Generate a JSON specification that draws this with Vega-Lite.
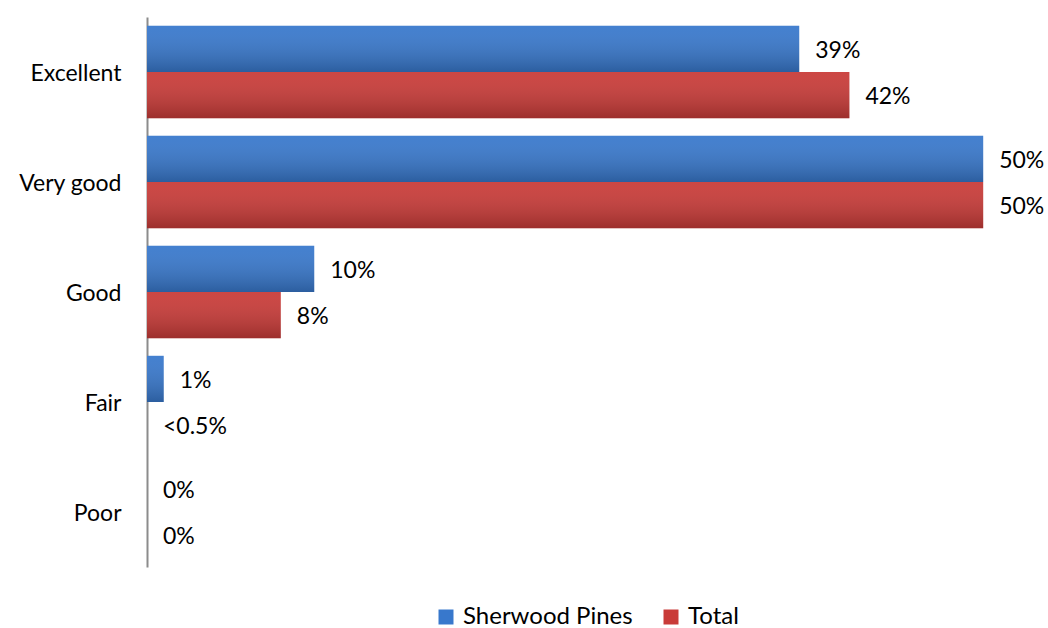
{
  "$schema": "https://vega.github.io/schema/vega-lite/v6.json",
  "width": 878,
  "height": 550,
  "autosize": {"type": "none"},
  "padding": {"left": 147, "top": 17, "right": 23, "bottom": 61},
  "background": "white",
  "config": {
    "view": {"stroke": null},
    "font": "Lato",
    "legend": {"layout": {"bottom": {"anchor": "middle"}}}
  },
  "data": {
    "values": [
      {"rating": "Excellent", "series": "Sherwood Pines", "value": 39, "label": "39%"},
      {"rating": "Excellent", "series": "Total", "value": 42, "label": "42%"},
      {"rating": "Very good", "series": "Sherwood Pines", "value": 50, "label": "50%"},
      {"rating": "Very good", "series": "Total", "value": 50, "label": "50%"},
      {"rating": "Good", "series": "Sherwood Pines", "value": 10, "label": "10%"},
      {"rating": "Good", "series": "Total", "value": 8, "label": "8%"},
      {"rating": "Fair", "series": "Sherwood Pines", "value": 1, "label": "1%"},
      {"rating": "Fair", "series": "Total", "value": 0, "label": "<0.5%"},
      {"rating": "Poor", "series": "Sherwood Pines", "value": 0, "label": "0%"},
      {"rating": "Poor", "series": "Total", "value": 0, "label": "0%"}
    ]
  },
  "encoding": {
    "y": {
      "field": "rating",
      "type": "nominal",
      "sort": ["Excellent", "Very good", "Good", "Fair", "Poor"],
      "scale": {"paddingInner": 0.16, "paddingOuter": 0.08},
      "axis": {
        "title": null,
        "ticks": false,
        "domainColor": "#8c8c8c",
        "domainWidth": 2,
        "labelFontSize": 23,
        "labelColor": "#000000",
        "labelPadding": 26,
        "labelOffset": 2,
        "labelFont": "Lato"
      }
    },
    "yOffset": {
      "field": "series",
      "type": "nominal",
      "sort": ["Sherwood Pines", "Total"]
    },
    "x": {
      "field": "value",
      "type": "quantitative",
      "scale": {"domain": [0, 52.5]},
      "axis": null
    }
  },
  "layer": [
    {
      "mark": {"type": "bar"},
      "encoding": {
        "color": {
          "field": "series",
          "type": "nominal",
          "scale": {"domain": ["Sherwood Pines", "Total"], "range": ["#3878cc", "#c93b38"]},
          "legend": {
            "title": null,
            "orient": "bottom",
            "direction": "horizontal",
            "offset": 38,
            "symbolType": "square",
            "symbolSize": 225,
            "symbolStrokeWidth": 0,
            "labelFontSize": 24,
            "labelColor": "#000000",
            "labelFont": "Lato",
            "labelLimit": 400,
            "columnPadding": 26,
            "symbolOffset": 0,
            "labelOffset": 5
          }
        }
      }
    },
    {
      "mark": {
        "type": "bar",
        "fill": {
          "gradient": "linear",
          "x1": 0, "y1": 0, "x2": 0, "y2": 1,
          "stops": [
            {"offset": 0, "color": "rgba(255,255,255,0.06)"},
            {"offset": 1, "color": "rgba(0,0,0,0.22)"}
          ]
        }
      },
      "encoding": {}
    },
    {
      "mark": {
        "type": "text",
        "align": "left",
        "baseline": "middle",
        "dx": 16,
        "dy": 2,
        "fontSize": 23,
        "font": "Lato",
        "color": "#000000"
      },
      "encoding": {
        "text": {"field": "label", "type": "nominal"}
      }
    }
  ]
}
